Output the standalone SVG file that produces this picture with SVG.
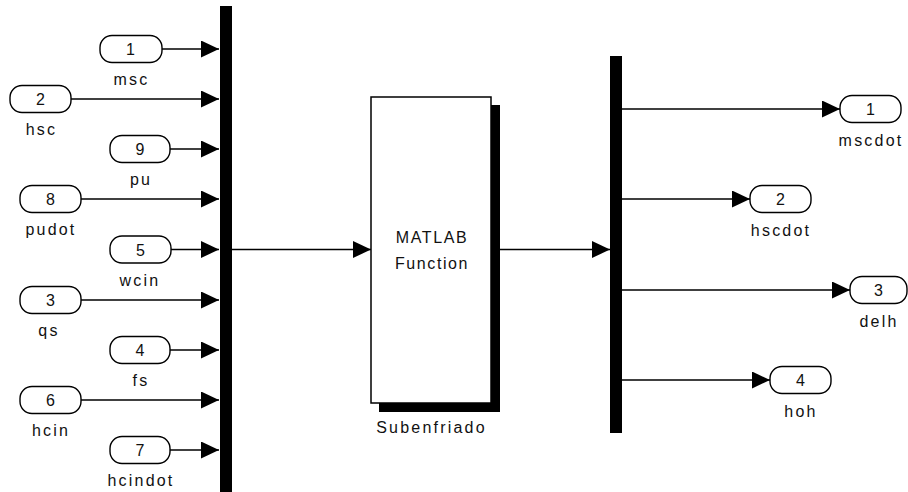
<svg xmlns="http://www.w3.org/2000/svg" width="908" height="492" viewBox="0 0 908 492">
<defs>
<marker id="arr" viewBox="0 0 18 17" refX="18" refY="8.5" markerWidth="18" markerHeight="17" markerUnits="userSpaceOnUse" orient="auto">
<path d="M0,0 L18,8.5 L0,17 z" fill="#000"/>
</marker>
<style>
.port{fill:#fff;stroke:#000;stroke-width:1.4}
.num{font-family:"Liberation Sans",Arial,sans-serif;font-size:16px;fill:#111;text-anchor:middle;letter-spacing:1px}
.lbl{font-family:"Liberation Sans",Arial,sans-serif;font-size:16px;fill:#111;text-anchor:middle;letter-spacing:2.2px}
.bar{fill:#000}
.wire{fill:none;stroke:#000;stroke-width:1.5}
.wa{fill:none;stroke:#000;stroke-width:1.5;marker-end:url(#arr)}
</style>
</defs>
<rect width="908" height="492" fill="#fff"/>

<g id="connectors">
<line class="wa" x1="162" y1="49" x2="219" y2="49"/>
<line class="wa" x1="71" y1="99" x2="219" y2="99"/>
<line class="wa" x1="170" y1="149" x2="219" y2="149"/>
<line class="wa" x1="81" y1="199" x2="219" y2="199"/>
<line class="wa" x1="171" y1="249.5" x2="219" y2="249.5"/>
<line class="wa" x1="81" y1="300" x2="219" y2="300"/>
<line class="wa" x1="170" y1="350" x2="219" y2="350"/>
<line class="wa" x1="81" y1="400" x2="219" y2="400"/>
<line class="wa" x1="170" y1="450" x2="219" y2="450"/>
<line class="wa" x1="232" y1="249.5" x2="371" y2="249.5"/>
<line class="wa" x1="500" y1="249.5" x2="610" y2="249.5"/>
<line class="wa" x1="622" y1="109" x2="840" y2="109"/>
<line class="wa" x1="622" y1="199" x2="750" y2="199"/>
<line class="wa" x1="622" y1="290" x2="850" y2="290"/>
<line class="wa" x1="622" y1="380" x2="770" y2="380"/>
</g>

<g id="mux_in"><rect class="bar" x="220" y="6" width="12" height="486"/></g>
<g id="mux_out"><rect class="bar" x="610" y="56" width="12" height="377"/></g>

<g id="subenfriado">
<rect x="379" y="105" width="121" height="307" fill="#000"/>
<rect x="371" y="97" width="120" height="306" fill="#fff" stroke="#000" stroke-width="1.5"/>
<text class="lbl" x="432" y="243" style="letter-spacing:1.6px">MATLAB</text>
<text class="lbl" x="432" y="269" style="letter-spacing:1.6px">Function</text>
<text class="lbl" x="431.5" y="433">Subenfriado</text>
</g>

<g id="in1"><rect class="port" x="100" y="35.5" width="62" height="27" rx="12"/><text class="num" x="131" y="55">1</text><text class="lbl" x="131.5" y="85">msc</text></g>
<g id="in2"><rect class="port" x="10" y="85.5" width="61" height="27" rx="12"/><text class="num" x="41" y="105">2</text><text class="lbl" x="41.5" y="135">hsc</text></g>
<g id="in9"><rect class="port" x="110" y="135.5" width="60" height="27" rx="12"/><text class="num" x="140.5" y="155">9</text><text class="lbl" x="141" y="185">pu</text></g>
<g id="in8"><rect class="port" x="20" y="185.5" width="61" height="27" rx="12"/><text class="num" x="51" y="205">8</text><text class="lbl" x="51" y="235">pudot</text></g>
<g id="in5"><rect class="port" x="110" y="236" width="61" height="27" rx="12"/><text class="num" x="141" y="255.5">5</text><text class="lbl" x="140" y="286">wcin</text></g>
<g id="in3"><rect class="port" x="20" y="286.5" width="61" height="27" rx="12"/><text class="num" x="51" y="306">3</text><text class="lbl" x="49" y="336">qs</text></g>
<g id="in4"><rect class="port" x="110" y="336.5" width="60" height="27" rx="12"/><text class="num" x="140.5" y="356">4</text><text class="lbl" x="141" y="386">fs</text></g>
<g id="in6"><rect class="port" x="20" y="386.5" width="61" height="27" rx="12"/><text class="num" x="51" y="406">6</text><text class="lbl" x="51" y="436">hcin</text></g>
<g id="in7"><rect class="port" x="110" y="436.5" width="60" height="27" rx="12"/><text class="num" x="140.5" y="456">7</text><text class="lbl" x="141" y="486">hcindot</text></g>

<g id="out1"><rect class="port" x="840" y="95.5" width="61" height="27" rx="12"/><text class="num" x="871" y="115">1</text><text class="lbl" x="871" y="146">mscdot</text></g>
<g id="out2"><rect class="port" x="750" y="185.5" width="61" height="27" rx="12"/><text class="num" x="781" y="205">2</text><text class="lbl" x="781" y="236">hscdot</text></g>
<g id="out3"><rect class="port" x="850" y="276.5" width="57" height="27" rx="12"/><text class="num" x="879" y="296">3</text><text class="lbl" x="879" y="327">delh</text></g>
<g id="out4"><rect class="port" x="770" y="366.5" width="61" height="27" rx="12"/><text class="num" x="801" y="386">4</text><text class="lbl" x="801" y="417">hoh</text></g>
</svg>
